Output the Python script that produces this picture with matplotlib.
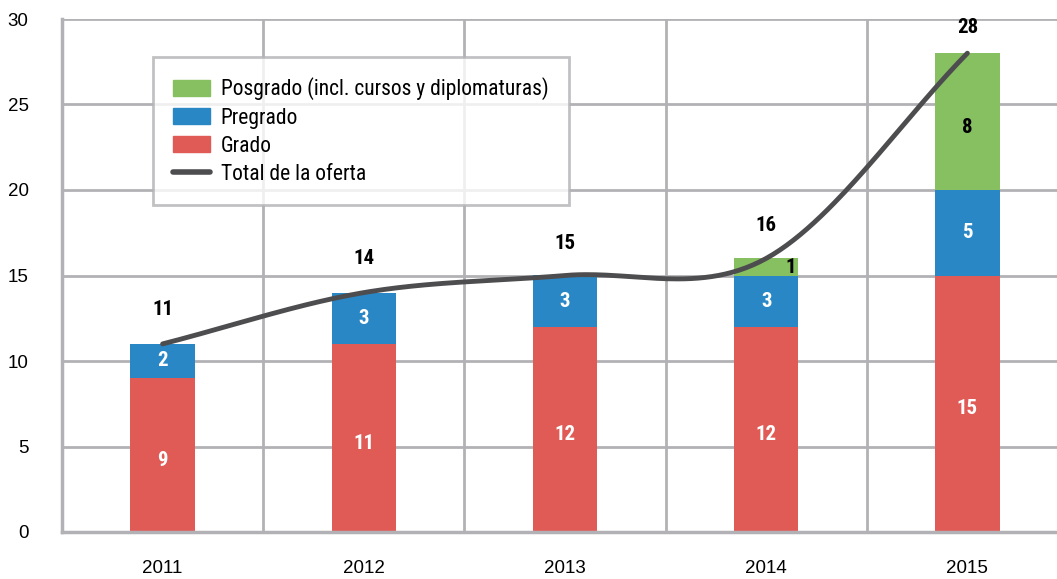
import numpy as np
import matplotlib
matplotlib.use("Agg")
import matplotlib.pyplot as plt
from matplotlib.patches import Patch
from matplotlib.lines import Line2D

years = ["2011", "2012", "2013", "2014", "2015"]
grado = [9, 11, 12, 12, 15]
pregrado = [2, 3, 3, 3, 5]
posgrado = [0, 0, 0, 1, 8]
total = [11, 14, 15, 16, 28]

c_grado = "#E05A56"
c_pre = "#2A87C5"
c_pos = "#86C060"
c_line = "#4D4D4F"
c_grid = "#B2B2B6"

plt.rcParams['font.family'] = ['Liberation Sans', 'DejaVu Sans']
narrow = ['Roboto Condensed', 'IBM Plex Sans Condensed', 'Liberation Sans', 'DejaVu Sans']

fig = plt.figure(figsize=(10.57, 5.79), dpi=100)
ax = fig.add_axes([62/1057, 1-532/579, (1068-62)/1057, (532-19)/579])

x = np.arange(len(years))
w = 0.32
g = np.array(grado, float); p = np.array(pregrado, float); q = np.array(posgrado, float)
ax.bar(x, g, w, color=c_grado, zorder=2)
ax.bar(x, p, w, bottom=g, color=c_pre, zorder=2)
ax.bar(x, q, w, bottom=g+p, color=c_pos, zorder=2)

# Catmull-Rom (Excel-style smoothed line) through totals
def catmull_rom(xs, ys, n=60):
    xs = np.asarray(xs, float); ys = np.asarray(ys, float)
    N = len(xs)
    m = np.zeros(N)
    m[0] = (ys[1]-ys[0])/(xs[1]-xs[0])
    m[-1] = (ys[-1]-ys[-2])/(xs[-1]-xs[-2])
    for i in range(1, N-1):
        m[i] = (ys[i+1]-ys[i-1])/(xs[i+1]-xs[i-1])
    XX, YY = [], []
    for i in range(N-1):
        h = xs[i+1]-xs[i]
        t = np.linspace(0, 1, n)
        h00 = 2*t**3-3*t**2+1; h10 = t**3-2*t**2+t
        h01 = -2*t**3+3*t**2; h11 = t**3-t**2
        XX.append(xs[i]+t*h)
        YY.append(h00*ys[i]+h10*h*m[i]+h01*ys[i+1]+h11*h*m[i+1])
    return np.concatenate(XX), np.concatenate(YY)

xx, yy = catmull_rom(x, total)
ax.plot(xx, yy, color=c_line, lw=3.5, solid_capstyle='round', zorder=3)

# segment labels
fs = 15
for i in range(len(years)):
    ax.text(x[i], g[i]/2 - 0.3, f"{grado[i]}", ha='center', va='center', color='white',
            fontsize=fs, fontweight='bold', family=narrow, zorder=4)
    ax.text(x[i], g[i] + p[i]/2, f"{pregrado[i]}", ha='center', va='center', color='white',
            fontsize=fs, fontweight='bold', family=narrow, zorder=4)
    if posgrado[i] > 1:
        ax.text(x[i], g[i] + p[i] + q[i]/2 - 0.35, f"{posgrado[i]}", ha='center', va='center', color='black',
                fontsize=fs, fontweight='bold', family=narrow, zorder=4)
    elif posgrado[i] == 1:
        ax.text(x[i] + 0.12, g[i] + p[i] + q[i]/2 - 0.05, f"{posgrado[i]}", ha='center', va='center', color='black',
                fontsize=fs, fontweight='bold', family=narrow, zorder=4)

label_off = [2.0, 2.0, 1.9, 1.9, 1.5]
for i in range(len(years)):
    ax.text(x[i], total[i] + label_off[i], f"{total[i]}", ha='center', va='center', color='black',
            fontsize=fs, fontweight='bold', family=narrow, zorder=4)

ax.set_xlim(-0.5, 4.5)
ax.set_ylim(0, 30)
ax.set_yticks(range(0, 31, 5))
ax.set_xticks(x)
ax.set_xticklabels(years)
ax.tick_params(length=0, labelsize=13.5, colors='black')
ax.tick_params(axis='y', pad=24)
ax.tick_params(axis='x', pad=20)

# grid
for yv in range(5, 31, 5):
    ax.axhline(yv, color=c_grid, lw=2, zorder=1)
for xv in np.arange(0.5, 4.5, 1.0):
    ax.axvline(xv, color=c_grid, lw=2, zorder=1)
for s in ['top', 'right']:
    ax.spines[s].set_visible(False)
for s in ['left', 'bottom']:
    ax.spines[s].set_color(c_grid)
    ax.spines[s].set_linewidth(2.5)

handles = [Patch(color=c_pos, label="Posgrado (incl. cursos y diplomaturas)"),
           Patch(color=c_pre, label="Pregrado"),
           Patch(color=c_grado, label="Grado"),
           Line2D([0], [0], color=c_line, lw=4, solid_capstyle='round', label="Total de la oferta")]
leg = ax.legend(handles=handles, loc='upper left', bbox_to_anchor=((153-62)/1006, 1-(57-19)/513),
                frameon=True, fancybox=False, prop={'family': narrow, 'size': 15.5},
                handlelength=1.7, handleheight=0.75, labelspacing=0.33, borderpad=0.95,
                handletextpad=0.5, borderaxespad=0)
leg.get_frame().set_edgecolor(c_grid)
leg.get_frame().set_linewidth(2)
leg.set_zorder(5)

fig.savefig("out.png", dpi=100)
